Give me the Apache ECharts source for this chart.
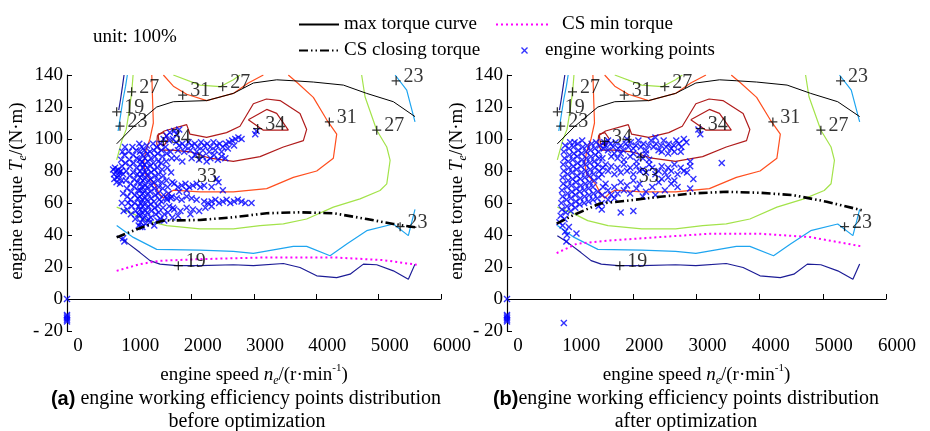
<!DOCTYPE html>
<html>
<head>
<meta charset="utf-8">
<script src="https://cdn.jsdelivr.net/npm/echarts/dist/echarts.min.js"></script>
<style>
html, body { margin: 0; padding: 0; background: #fff; }
#main { width: 930px; height: 431px; }
</style>
</head>
<body>
<div id="main"></div>
<script>
// speed ticks / torque ticks
var speedTicks = [0, 1000, 2000, 3000, 4000, 5000, 6000];
var torqueTicks = [-20, 0, 20, 40, 60, 80, 100, 120, 140];

// max torque curve (same engine in both panels)
var maxTorque = [[797,97],[1064,107.6],[1439,120],[1706,123.3],[2241,124],[2669,128.5],[2990,135],[3364,137],[3631,136.4],[3952,135.6],[4434,133.7],[4808,128.5],[5236,123.3],[5583,114]];

// efficiency contours (unit 100%)
var eff19a = [[830,118],[860,125],[890,133],[915,140]];
var eff19b = [[797,39.6],[958,35.4],[1171,29],[1332,24],[1492,21.8],[1759,20.8],[2134,20.8],[2669,21.4],[2990,20.8],[3471,22.2],[3738,19.7],[4006,14.5],[4327,13.4],[4541,15.5],[4755,21.8],[4969,21.4],[5236,17.6],[5476,12.4],[5583,21.8]];
var eff23a = [[820,105],[860,115],[900,125],[940,133],[968,140]];
var eff23b = [[797,46],[1064,38.5],[1439,31],[2134,30.6],[2669,29.8],[2990,28.5],[3631,32.9],[3845,32.9],[4220,27],[4488,34.4],[4808,42.7],[5236,46.9],[5476,39.6],[5583,56]];
var eff23c = [[5264,140],[5450,130.6],[5583,110.7]];
var eff27a = [[797,87],[880,99],[950,106],[1000,118],[1040,130],[1060,140]];
var eff27b = [[1706,140],[2134,133.7],[2455,132.7],[2669,137],[2776,140]];
var eff27c = [[797,57.4],[1064,53.2],[1278,49],[1599,45.9],[2134,43.8],[2669,43.8],[3097,45.9],[3471,46.9],[3845,50],[4273,57.4],[4701,62.6],[5022,67.8],[5130,72],[5184,86.7],[5130,95],[4969,105.5],[4781,126.4],[4727,140]];
var eff31a = [[1360,140],[1370,128],[1385,110],[1330,100],[1260,92],[1230,85],[1260,78],[1400,72],[1480,66],[1546,63],[1620,66],[1706,68],[2134,67],[2669,67],[3204,69],[3631,76],[4006,80],[4273,88],[4327,103],[4167,112],[3952,126],[3700,135],[3550,140]];
var eff31b = [[1546,140],[1706,133],[1920,128],[2241,124],[2669,128.5],[2909,135],[3150,140]];
var eff33 = [[1439,97],[1450,102],[1560,105],[1920,109],[1973,103],[2240,101],[2560,104],[2775,108],[2990,122],[3200,125],[3418,124],[3738,116],[3845,106],[3792,99],[3471,95],[3097,89],[2669,86],[2294,88],[1973,92],[1700,93],[1492,93],[1439,97]];
var eff34a = [[1460,103],[1550,104],[1620,100],[1560,96],[1480,97],[1460,103]];
var eff34b = [[2909,112],[3204,118.5],[3364,116],[3551,105.5],[3150,105.5],[2909,112]];

// contour label marks: speed, torque, text
var contourMarks = [[797,117,'19'],[850,108,'23'],[1037,129.5,'27'],[1856,127.4,'31'],[2498,132.7,'27'],[1545,98.5,'34'],[2118,88.7,'33'],[3059,106.5,'34'],[4209,110.7,'31'],[4969,105.5,'27'],[5280,136.4,'23'],[5344,45.2,'23'],[1786,20.8,'19']];

// CS torque curves
var closingBefore = [[797,38.5],[1064,42.7],[1278,45.9],[1546,49],[2134,49.4],[2669,51.1],[3204,53.6],[3738,54.2],[4273,53.6],[4808,50],[5236,46.9],[5583,44.8]];
var closingAfter = [[786,47.1],[1050,52.4],[1472,59.7],[1894,61.4],[2422,63.9],[2950,66],[3477,67],[4005,66.4],[4533,64.9],[5061,60.8],[5615,55.5]];
var minBefore = [[797,17.6],[1171,21.8],[1492,23.9],[2134,24.9],[3204,26],[4273,26],[5075,24.3],[5610,21.4]];
var minAfter = [[786,28.7],[1103,34.5],[1630,36.6],[2422,38.7],[3214,40.8],[4005,40.8],[4797,38.7],[5615,32.9]];

// engine working points before optimization
var ptsBefore = [[740,81],[755,78],[770,82],[790,80],[805,76],[820,81],[840,79],[760,75],[795,73],[830,77],[865,80],[885,83],[900,78],[875,74],[850,72],
[920,90],[935,85],[950,80],[945,74],[960,69],[970,64],[980,60],[965,56],[990,92],[1000,87],[1010,83],[1005,77],[1020,72],[1030,67],[1015,62],[1040,58],[1025,53],[1050,95],[1060,90],[1070,85],[1065,79],[1080,75],[1075,70],[1090,65],[1085,60],[1100,55],[1095,50],[1110,93],[1120,88],[1115,82],[1130,78],[1125,73],[1140,68],[1135,63],[1150,58],[1145,53],[900,66],[880,60],[910,55],[870,87],[890,92],[930,95],
[1160,97],[1170,92],[1165,87],[1180,84],[1175,80],[1170,76],[1180,72],[1175,68],[1170,64],[1180,60],[1175,56],[1170,52],[1180,48],[1175,45],[1200,95],[1210,90],[1205,86],[1215,82],[1205,78],[1215,74],[1205,70],[1215,66],[1205,62],[1215,58],[1205,54],[1215,50],[1240,93],[1250,88],[1240,84],[1255,79],[1245,75],[1255,71],[1240,67],[1250,63],[1245,59],[1255,55],[1240,51],
[1280,96],[1290,91],[1300,86],[1285,82],[1295,78],[1310,74],[1290,70],[1300,66],[1285,62],[1305,58],[1290,54],[1310,50],[1330,92],[1345,88],[1335,83],[1350,79],[1340,75],[1355,71],[1335,67],[1350,63],[1340,59],[1355,55],[1345,51],[1380,97],[1395,93],[1410,89],[1385,85],[1400,81],[1415,77],[1390,73],[1405,69],[1420,65],[1395,61],[1410,57],[1425,53],[1440,95],[1455,91],[1465,86],[1450,82],[1470,78],[1455,74],[1475,70],[1460,66],[1480,62],[1455,58],[1470,54],[1450,49],
[1500,97],[1515,93],[1530,89],[1510,85],[1525,81],[1545,77],[1520,73],[1535,69],[1550,65],[1515,61],[1540,57],[1560,53],[1580,95],[1600,91],[1590,86],[1610,82],[1595,74],[1615,70],[1630,66],[1605,62],[1640,58],[1620,54],[1660,92],[1680,88],[1670,79],[1690,73],[1665,63],[1700,57],[1690,51],
[1550,100],[1600,102],[1650,104],[1720,105],[1760,103],[1800,106],[1700,100],[1640,99],
[1750,98],[1800,96],[1850,97],[1900,95],[1950,98],[2000,96],[2050,97],[2100,95],[2150,98],[2200,96],[2250,97],[2300,95],[2350,98],[2400,96],[2450,97],[2500,95],[2550,97],[2600,98],[2650,99],[2700,100],[2750,101],[2800,100],[1780,93],[1880,92],[1980,93],[2080,92],[2180,93],[2280,92],[2380,93],[2480,92],[2580,94],[2680,96],
[2000,88],[2060,90],[2120,87],[2180,89],[2240,86],[2300,88],[2360,90],[2420,87],[2480,89],[2540,88],[1760,88],[1850,86],
[1720,72],[1780,70],[1840,71],[1900,72],[1960,70],[2020,71],[2080,72],[2140,70],[2200,71],[1800,67],[1920,68],[2400,75],[2430,73],[2500,68],[2320,70],
[1600,63],[1680,64],[1760,63],[1840,62],[1920,64],[2000,63],[2080,62],
[2200,61],[2260,60],[2320,61],[2380,62],[2440,60],[2500,61],[2560,62],[2620,60],[2680,61],[2740,62],[2800,61],[2860,60],[2960,60],
[1720,56],[1820,55],[1920,57],[2020,56],[2120,55],[2220,57],[2320,58],[1780,52],[1980,53],
[1260,47],[1330,48],[1400,46],[1500,50],[1560,49],[1210,45],[1150,46],[920,36],[900,38],
[3040,105],[3020,103],
[0,0],[0,-10],[0,-11],[0,-12],[0,-13],[0,-14]];

// engine working points after optimization
var ptsAfter = [[830,48],[850,52],[870,56],[860,60],[880,64],[870,68],[890,72],[880,76],[900,80],[890,84],[910,88],[900,92],[920,96],[880,46],[910,50],
[930,54],[950,58],[940,62],[960,66],[950,70],[970,74],[960,78],[980,82],[970,86],[990,90],[980,94],[1000,98],
[1010,55],[1020,59],[1010,63],[1030,67],[1020,71],[1040,75],[1030,79],[1050,83],[1040,87],[1060,91],[1050,95],[1070,98],
[1080,57],[1090,61],[1080,65],[1100,69],[1090,73],[1110,77],[1100,81],[1120,85],[1110,89],[1130,93],[1120,97],
[1150,59],[1160,63],[1150,67],[1170,71],[1160,75],[1180,79],[1170,83],[1190,87],[1180,91],[1200,95],[1190,99],
[1220,60],[1230,64],[1220,68],[1240,72],[1230,76],[1250,80],[1240,84],[1260,88],[1250,92],[1270,96],
[1290,61],[1300,65],[1290,69],[1310,73],[1300,77],[1320,81],[1310,85],[1330,89],[1320,93],[1340,97],
[1360,62],[1370,66],[1360,70],[1380,74],[1370,78],[1390,82],[1380,86],[1400,90],[1390,94],[1410,98],
[1430,63],[1440,67],[1450,76],[1460,80],[1440,84],[1460,88],[1450,92],[1470,96],
[1500,60],[1510,65],[1520,70],[1500,78],[1520,82],[1510,88],[1530,94],[1540,98],
[920,42],[950,40],[940,36],[1100,41],[980,45],[900,-15],
[1560,96],[1600,93],[1640,97],[1680,95],[1720,98],[1760,94],[1800,96],[1840,93],[1880,97],[1920,95],[1960,98],[2000,94],[2040,96],[2080,99],[2120,95],[2160,97],[2200,93],[2240,96],[2280,99],[2320,95],[2360,97],[2400,93],[2440,96],[2480,99],[2520,95],[2560,97],[2600,94],[2640,96],[2680,99],[2720,97],[2760,95],[2800,100],[2840,98],[2350,101],[2450,92],[2550,91],[2650,92],[1600,99],[1700,91],[1800,91],[1900,100],[2000,91],[2100,90],[2200,91],[2750,92],
[1560,84],[1600,80],[1650,83],[1700,78],[1750,82],[1800,79],[1850,84],[1900,80],[1950,82],[2000,78],[2050,83],[2100,80],[2150,81],[2200,79],[2250,84],[2300,82],[2350,78],[2400,80],[2450,83],[2500,79],[2550,82],[2600,80],[2650,84],[2700,78],[2750,82],[2800,80],[2850,79],[2900,83],[2950,75],[2900,86],
[1750,88],[1850,87],[1950,89],[2050,86],[2150,88],[2250,87],[1650,89],
[1560,72],[1600,68],[1650,65],[1700,70],[1750,66],[1800,73],[1850,68],[1900,71],[1950,66],[2000,74],[2050,69],[2100,72],[2200,67],[2300,70],[2400,73],[2500,68],[2600,72],[2700,70],[2900,69],[2150,64],[2350,65],[2450,75],[2550,76],[2650,74],
[1500,56],[1800,54],[2000,55],[1600,62],[1700,63],[1450,58],
[3400,85],[3030,106],[3060,103],[0,0],[0,-10],[0,-11],[0,-12],[0,-13],[0,-14]];

var serif = 'Liberation Serif';
var xMark = 'path://M0,1.4L1.4,0L5,3.6L8.6,0L10,1.4L6.4,5L10,8.6L8.6,10L5,6.4L1.4,10L0,8.6L3.6,5Z';
var plusMark = 'path://M4.3,0H5.7V4.3H10V5.7H5.7V10H4.3V5.7H0V4.3H4.3Z';

var contours = [
    [eff19a, '#1c1c96'], [eff19b, '#1c1c96'],
    [eff23a, '#1ea5f0'], [eff23b, '#1ea5f0'], [eff23c, '#1ea5f0'],
    [eff27a, '#a3e34a'], [eff27b, '#a3e34a'], [eff27c, '#a3e34a'],
    [eff31a, '#ff4f1f'], [eff31b, '#ff4f1f'],
    [eff33, '#b01c1c'], [eff34a, '#b01c1c'], [eff34b, '#b01c1c']
];

var nameRich = {
    a: {fontFamily: serif, fontSize: 19, lineHeight: 24, color: '#000'},
    i: {fontFamily: serif, fontSize: 19, lineHeight: 24, fontStyle: 'italic', color: '#000'},
    s: {fontFamily: serif, fontSize: 12, lineHeight: 12, fontStyle: 'italic', verticalAlign: 'bottom', color: '#000'},
    p: {fontFamily: serif, fontSize: 11, lineHeight: 11, verticalAlign: 'top', color: '#000'}
};

function makeX(i) {
    return {
        gridIndex: i, type: 'value', min: 0, max: 6000, interval: 1000,
        name: '{a|engine speed }{i|n}{s|e}{a|/(r·min}{p|-1}{a|)}',
        nameLocation: 'middle', nameGap: 32,
        nameTextStyle: {rich: nameRich},
        axisLine: {lineStyle: {color: '#000', width: 1.2}},
        axisTick: {inside: true, length: 5, lineStyle: {color: '#000'}},
        axisLabel: {fontFamily: serif, fontSize: 19, color: '#000', margin: 6, padding: [0, 0, 0, 22],
            formatter: function (v) { return String(v); }},
        splitLine: {show: false}
    };
}
function makeY(i) {
    return {
        gridIndex: i, type: 'value', min: -20, max: 140, interval: 20,
        name: '{a|engine torque }{i|T}{s|e}{a|/(N·m)}',
        nameLocation: 'middle', nameGap: 38, nameRotate: 90,
        nameTextStyle: {rich: nameRich, padding: [0, 0, 0, 24]},
        axisLine: {show: true, lineStyle: {color: '#000', width: 1.2}},
        axisTick: {inside: true, length: 5, lineStyle: {color: '#000'}},
        axisLabel: {fontFamily: serif, fontSize: 19, color: '#000', margin: 4,
            formatter: function (v) { return v < 0 ? '- ' + Math.abs(v) : String(v); }},
        splitLine: {show: false}
    };
}

var series = [];
[[ptsBefore, closingBefore, minBefore], [ptsAfter, closingAfter, minAfter]].forEach(function (set, i) {
    contours.forEach(function (c) {
        series.push({type: 'line', xAxisIndex: i, yAxisIndex: i, data: c[0], symbol: 'none', silent: true, z: 1,
            lineStyle: {color: c[1], width: 1.2}});
    });
    series.push({name: 'engine working points', type: 'scatter', xAxisIndex: i, yAxisIndex: i, data: set[0],
        symbol: xMark, symbolSize: 7, itemStyle: {color: '#0000ff'}, z: 2});
    series.push({name: 'max torque curve', type: 'line', xAxisIndex: i, yAxisIndex: i, data: maxTorque, symbol: 'none', z: 3,
        itemStyle: {color: '#000'}, lineStyle: {color: '#000', width: 1}});
    series.push({name: 'CS min torque', type: 'line', xAxisIndex: i, yAxisIndex: i, data: set[2], symbol: 'none', z: 3,
        itemStyle: {color: '#ff00ff'}, lineStyle: {color: '#ff00ff', width: 2, type: [2, 3]}});
    series.push({name: 'CS closing torque', type: 'line', xAxisIndex: i, yAxisIndex: i, data: set[1], symbol: 'none', z: 3,
        itemStyle: {color: '#000'}, lineStyle: {color: '#000', width: 2.6, type: [9, 3, 1.5, 3, 1.5, 3]}});
    series.push({type: 'scatter', xAxisIndex: i, yAxisIndex: i, symbol: plusMark, symbolSize: 9, z: 4, silent: true,
        itemStyle: {color: '#000'},
        data: contourMarks.map(function (m) {
            var d = {value: [m[0], m[1]], name: m[2]};
            if (m[2] === '33' && m[0] === 2118) d.label = {position: 'bottom', offset: [8, 2]};
            return d;
        }),
        label: {show: true, position: 'right', distance: 3, offset: [0, -4], formatter: '{b}',
            fontFamily: serif, fontSize: 20, color: '#000'}});
});

var chart = echarts.init(document.getElementById('main'));
chart.setOption({
    animation: false,
    backgroundColor: '#fff',
    grid: [
        {left: 67, top: 75, width: 374, height: 256, outerBoundsMode: 'none'},
        {left: 507, top: 75, width: 379, height: 256, outerBoundsMode: 'none'}
    ],
    xAxis: [makeX(0), makeX(1)],
    yAxis: [makeY(0), makeY(1)],
    legend: [
        {left: 293, top: 10, orient: 'vertical', itemWidth: 40, itemHeight: 14, itemGap: 7,
            itemStyle: {opacity: 0},
            data: ['max torque curve', 'CS closing torque'],
            textStyle: {fontFamily: serif, fontSize: 19, color: '#000'}},
        {left: 490, top: 10, itemWidth: 53, itemHeight: 14,
            itemStyle: {opacity: 0},
            data: ['CS min torque'],
            textStyle: {fontFamily: serif, fontSize: 19, color: '#000', padding: [0, 0, 0, 8]}},
        {left: 516, top: 36, itemWidth: 7, itemHeight: 7,
            data: ['engine working points'],
            textStyle: {fontFamily: serif, fontSize: 19, color: '#000', padding: [0, 0, 0, 12]}}
    ],
    graphic: [
        {type: 'text', left: 93, top: 28, style: {text: 'unit: 100%', font: '19px "Liberation Serif"', fill: '#000'}},
        {type: 'text', x: 246, y: 399, style: {text: '{b|(a)}{t| engine working efficiency points distribution}', align: 'center', verticalAlign: 'middle',
            rich: {b: {fontFamily: 'Liberation Sans', fontWeight: 'bold', fontSize: 20}, t: {fontFamily: serif, fontSize: 20}}}},
        {type: 'text', x: 247, y: 422, style: {text: 'before optimization', align: 'center', verticalAlign: 'middle', font: '20px "Liberation Serif"', fill: '#000'}},
        {type: 'text', x: 686, y: 399, style: {text: '{b|(b)}{t|engine working efficiency points distribution}', align: 'center', verticalAlign: 'middle',
            rich: {b: {fontFamily: 'Liberation Sans', fontWeight: 'bold', fontSize: 20}, t: {fontFamily: serif, fontSize: 20}}}},
        {type: 'text', x: 686, y: 422, style: {text: 'after optimization', align: 'center', verticalAlign: 'middle', font: '20px "Liberation Serif"', fill: '#000'}}
    ],
    series: series
});
</script>
</body>
</html>
